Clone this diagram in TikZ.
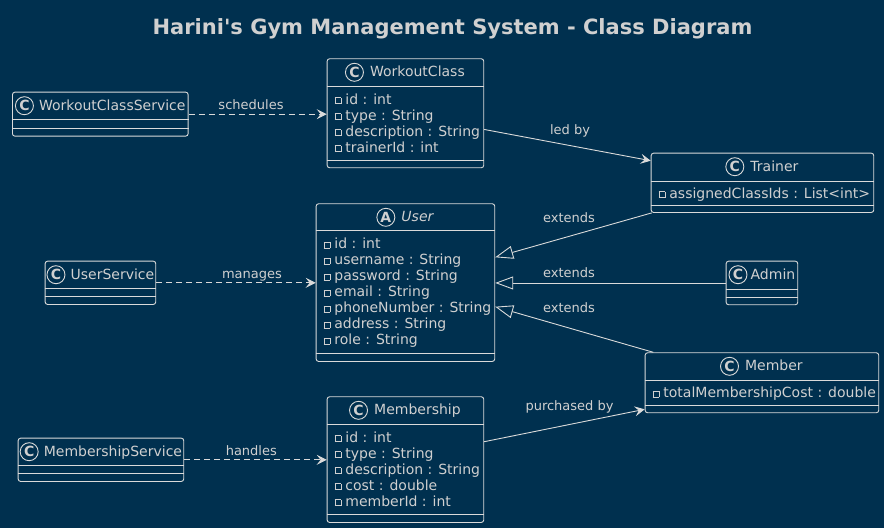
\documentclass[tikz,border=0pt]{standalone}
\usepackage{fontspec}
\setmainfont{DejaVu Sans}
\usetikzlibrary{arrows.meta,positioning}

\definecolor{bgblue}{HTML}{00304F}
\definecolor{ink}{HTML}{DADADA}
\definecolor{txt}{HTML}{D0D0D0}

% private field marker
\newcommand\pv{\raisebox{0.6pt}{\fboxsep=0pt\fboxrule=0.7pt\fbox{\rule{0pt}{5.5pt}\hspace{5.5pt}}}\hspace{4pt}}

\tikzset{
  umlbox/.style={draw=ink, line width=0.9pt, rounded corners=2.5pt, anchor=north west, inner sep=0pt},
  sep/.style={draw=ink, line width=0.9pt},
  cname/.style={anchor=base, text=txt, font=\fontsize{14}{16}\selectfont, inner sep=0pt},
  spot/.style={circle, draw=ink, line width=0.9pt, minimum size=18pt, inner sep=0pt, text=txt, font=\fontsize{14}{14}\selectfont\bfseries},
  attr/.style={anchor=base west, text=txt, font=\fontsize{14}{16}\selectfont, inner sep=0pt},
  elabel/.style={anchor=base, text=txt, font=\fontsize{13}{15}\selectfont, inner sep=0pt},
  dep/.style={draw=ink, line width=0.9pt, dash pattern=on 6pt off 4pt, -{Stealth[length=10pt,width=10pt,inset=4pt]}},
  assoc/.style={draw=ink, line width=0.9pt, -{Stealth[length=10pt,width=10pt,inset=4pt]}},
  gen/.style={draw=ink, line width=0.9pt, -{Triangle[open,length=18pt,width=13pt,fill=bgblue]}},
}

\begin{document}
\begin{tikzpicture}[x=1pt, y=-1pt]
  \useasboundingbox (0,0) rectangle (884,528);
  \fill[bgblue] (0,0) rectangle (884,528);

  \node[anchor=base, text=txt, font=\fontsize{21}{25}\selectfont\bfseries] (title) at (452.5,34.5) {Harini\textquotesingle s Gym Management System - Class Diagram};

  % services
  \node[umlbox, minimum width=175.7pt, minimum height=44pt] (wcs) at (12,91.7) {};
  \draw[sep] ([yshift=-27.7pt]wcs.north west) -- ([yshift=-27.7pt]wcs.north east);
  \draw[sep] ([yshift=8pt]wcs.south west) -- ([yshift=8pt]wcs.south east);
  \node[cname] (wcs-name) at ([xshift=12pt, yshift=-18.5pt]wcs.north) {WorkoutClassService};
  \node[spot, left=5pt of wcs-name.base west, yshift=4.5pt] (wcs-spot) {C};

  \node[umlbox, minimum width=110.6pt, minimum height=43.3pt] (us) at (44.7,260.7) {};
  \draw[sep] ([yshift=-27.7pt]us.north west) -- ([yshift=-27.7pt]us.north east);
  \draw[sep] ([yshift=8pt]us.south west) -- ([yshift=8pt]us.south east);
  \node[cname] (us-name) at ([xshift=12pt, yshift=-18.5pt]us.north) {UserService};
  \node[spot, left=5pt of us-name.base west, yshift=4.5pt] (us-spot) {C};

  \node[umlbox, minimum width=165.6pt, minimum height=43.3pt] (ms) at (17.7,437.7) {};
  \draw[sep] ([yshift=-27.7pt]ms.north west) -- ([yshift=-27.7pt]ms.north east);
  \draw[sep] ([yshift=8pt]ms.south west) -- ([yshift=8pt]ms.south east);
  \node[cname] (ms-name) at ([xshift=12pt, yshift=-18.5pt]ms.north) {MembershipService};
  \node[spot, left=5pt of ms-name.base west, yshift=4.5pt] (ms-spot) {C};

  % WorkoutClass
  \node[umlbox, minimum width=156.6pt, minimum height=109pt] (wc) at (326.7,58.3) {};
  \draw[sep] ([yshift=-27.7pt]wc.north west) -- ([yshift=-27.7pt]wc.north east);
  \draw[sep] ([yshift=8pt]wc.south west) -- ([yshift=8pt]wc.south east);
  \node[cname] (wc-name) at ([xshift=12pt, yshift=-18.5pt]wc.north) {WorkoutClass};
  \node[spot, left=6pt of wc-name.base west, yshift=4.5pt] (wc-spot) {C};
  \foreach \t [count=\i] in {id : int, type : String, description : String, trainerId : int}
    \node[attr] (wc-a\i) at ([xshift=7.6pt, yshift={-45.7pt-16pt*(\i-1)}]wc.north west) {\pv\t};

  % User
  \node[umlbox, minimum width=178.6pt, minimum height=157.7pt] (user) at (315.7,203.3) {};
  \draw[sep] ([yshift=-27.4pt]user.north west) -- ([yshift=-27.4pt]user.north east);
  \draw[sep] ([yshift=8pt]user.south west) -- ([yshift=8pt]user.south east);
  \node[cname, font=\fontsize{14}{16}\selectfont\itshape] (user-name) at ([xshift=12pt, yshift=-18.5pt]user.north) {User};
  \node[spot, left=6pt of user-name.base west, yshift=4.5pt] (user-spot) {A};
  \foreach \t [count=\i] in {id : int, username : String, password : String, email : String, phoneNumber : String, address : String, role : String}
    \node[attr] (user-a\i) at ([xshift=7.6pt, yshift={-45.4pt-16pt*(\i-1)}]user.north west) {\pv\t};

  % Membership
  \node[umlbox, minimum width=156.6pt, minimum height=125.7pt] (mship) at (326.7,396.3) {};
  \draw[sep] ([yshift=-27.7pt]mship.north west) -- ([yshift=-27.7pt]mship.north east);
  \draw[sep] ([yshift=8pt]mship.south west) -- ([yshift=8pt]mship.south east);
  \node[cname] (mship-name) at ([xshift=12pt, yshift=-18.5pt]mship.north) {Membership};
  \node[spot, left=6pt of mship-name.base west, yshift=4.5pt] (mship-spot) {C};
  \foreach \t [count=\i] in {id : int, type : String, description : String, cost : double, memberId : int}
    \node[attr] (mship-a\i) at ([xshift=7.6pt, yshift={-45.7pt-16pt*(\i-1)}]mship.north west) {\pv\t};

  % Trainer, Admin, Member
  \node[umlbox, minimum width=222.6pt, minimum height=59.3pt] (trainer) at (650.7,152.7) {};
  \draw[sep] ([yshift=-28.3pt]trainer.north west) -- ([yshift=-28.3pt]trainer.north east);
  \draw[sep] ([yshift=7.5pt]trainer.south west) -- ([yshift=7.5pt]trainer.south east);
  \node[cname] (trainer-name) at ([xshift=12pt, yshift=-18.5pt]trainer.north) {Trainer};
  \node[spot, left=6pt of trainer-name.base west, yshift=4.5pt] (trainer-spot) {C};
  \node[attr] (trainer-a1) at ([xshift=7.6pt, yshift=-45.3pt]trainer.north west) {\pv assignedClassIds : List<int>};

  \node[umlbox, minimum width=71.6pt, minimum height=43.6pt] (admin) at (725.7,260.7) {};
  \draw[sep] ([yshift=-28.3pt]admin.north west) -- ([yshift=-28.3pt]admin.north east);
  \draw[sep] ([yshift=8pt]admin.south west) -- ([yshift=8pt]admin.south east);
  \node[cname] (admin-name) at ([xshift=11pt, yshift=-18.5pt]admin.north) {Admin};
  \node[spot, left=3pt of admin-name.base west, yshift=4.5pt] (admin-spot) {C};

  \node[umlbox, minimum width=233.6pt, minimum height=60pt] (member) at (644.7,352.3) {};
  \draw[sep] ([yshift=-28pt]member.north west) -- ([yshift=-28pt]member.north east);
  \draw[sep] ([yshift=8pt]member.south west) -- ([yshift=8pt]member.south east);
  \node[cname] (member-name) at ([xshift=12pt, yshift=-18.5pt]member.north) {Member};
  \node[spot, left=6pt of member-name.base west, yshift=4.5pt] (member-spot) {C};
  \node[attr] (member-a1) at ([xshift=7.6pt, yshift=-45pt]member.north west) {\pv totalMembershipCost : double};

  % connectors
  \draw[dep] (wcs.east) -- (wcs.east -| wc.west);
  \draw[dep] (us.east) -- (us.east -| user.west);
  \draw[dep] (ms.east) -- (ms.east -| mship.west);
  \draw[assoc] ([yshift=-16.2pt]wc.east) -- ([yshift=-8pt]trainer.north west);
  \draw[assoc] ([yshift=-45.4pt]mship.north east) -- ([yshift=-57pt]member.north west);
  \draw[gen] ([xshift=1pt]trainer.south west) -- ([yshift=-54pt]user.north east);
  \draw[gen] (admin.west) -- (admin.west -| user.east);
  \draw[gen] ([xshift=8.6pt]member.north west) -- ([yshift=-103.4pt]user.north east);

  \node[elabel] (l-sched) at (251,109) {schedules};
  \node[elabel] (l-manag) at (252,278.3) {manages};
  \node[elabel] (l-handl) at (251.3,455) {handles};
  \node[elabel] (l-led) at (570,134.3) {led by};
  \node[elabel] (l-ext1) at (569,222.7) {extends};
  \node[elabel] (l-ext2) at (569,277.3) {extends};
  \node[elabel] (l-ext3) at (569,312.3) {extends};
  \node[elabel] (l-purch) at (569.5,410.7) {purchased by};
\end{tikzpicture}
\end{document}
